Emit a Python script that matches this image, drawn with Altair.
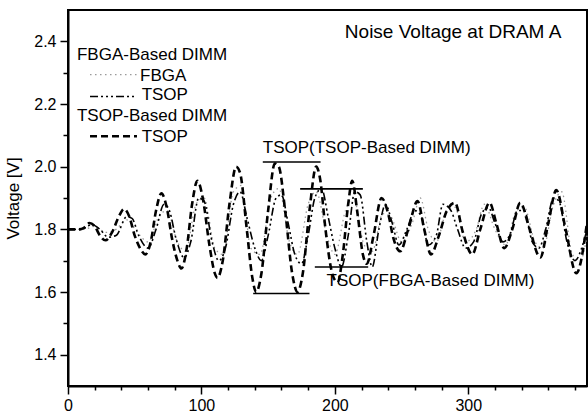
import altair as alt
import pandas as pd

# ---- waveform: TSOP chip on TSOP-based DIMM (dashed) ----
tt_t = [0, 8, 12, 16, 20, 24, 28, 33, 38, 42, 46, 50, 54, 58, 62, 66, 70, 74, 78, 82, 85, 89, 93, 97,
        101, 106, 110, 112, 116, 121, 126, 129, 134, 138, 141, 145, 150, 155, 158, 163, 168, 172, 176,
        181, 186, 189, 193, 198, 202, 206, 210, 213, 217, 221, 224, 229, 235, 240, 244, 249, 255, 262,
        267, 272, 278, 284, 290, 296, 303, 309, 316, 321, 327, 333, 339, 346, 354, 360, 366, 373, 381, 389]
tt_v = [1.80, 1.80, 1.805, 1.82, 1.81, 1.78, 1.765, 1.79, 1.84, 1.865, 1.84, 1.78, 1.74, 1.72, 1.76, 1.86,
        1.915, 1.87, 1.77, 1.70, 1.675, 1.74, 1.88, 1.955, 1.90, 1.75, 1.66, 1.645, 1.70, 1.88, 2.00, 1.98,
        1.80, 1.65, 1.60, 1.66, 1.86, 2.01, 2.00, 1.85, 1.66, 1.60, 1.66, 1.86, 2.00, 1.96, 1.80, 1.66,
        1.63, 1.72, 1.88, 1.955, 1.85, 1.72, 1.69, 1.78, 1.90, 1.85, 1.77, 1.73, 1.80, 1.89, 1.80, 1.72,
        1.78, 1.86, 1.885, 1.79, 1.72, 1.80, 1.885, 1.82, 1.74, 1.80, 1.885, 1.80, 1.71, 1.82, 1.925,
        1.80, 1.66, 1.82]

# ---- waveform: TSOP chip on FBGA-based DIMM (dash-dot) ----
tf_t = [0, 10, 18, 24, 30, 36, 44, 48, 53, 60, 66, 72, 76, 81, 87, 92, 98, 102, 108, 113, 118, 124, 129,
        134, 140, 145, 150, 156, 160, 165, 170, 175, 180, 185, 190, 195, 200, 205, 210, 215, 219, 224,
        228, 233, 238, 243, 248, 254, 260, 265, 270, 276, 281, 287, 292, 298, 304, 310, 315, 320, 326,
        331, 337, 342, 348, 353, 358, 364, 368, 374, 380, 385, 389]
tf_v = [1.80, 1.80, 1.815, 1.80, 1.775, 1.78, 1.84, 1.835, 1.78, 1.74, 1.80, 1.88, 1.86, 1.77, 1.71, 1.76,
        1.90, 1.89, 1.76, 1.70, 1.74, 1.88, 1.92, 1.84, 1.74, 1.70, 1.78, 1.90, 1.91, 1.82, 1.72, 1.69,
        1.78, 1.90, 1.93, 1.84, 1.74, 1.68, 1.78, 1.92, 1.91, 1.76, 1.68, 1.80, 1.88, 1.82, 1.75, 1.80,
        1.86, 1.84, 1.75, 1.78, 1.88, 1.86, 1.80, 1.74, 1.76, 1.85, 1.87, 1.82, 1.76, 1.78, 1.86, 1.86,
        1.76, 1.74, 1.80, 1.90, 1.89, 1.76, 1.70, 1.74, 1.80]

# ---- waveform: FBGA chip on FBGA-based DIMM (dotted) ----
ff_t = [0, 12, 20, 28, 36, 44, 52, 60, 68, 74, 82, 88, 96, 102, 110, 116, 124, 130, 137, 144, 152, 158,
        166, 172, 180, 186, 194, 200, 208, 214, 222, 228, 236, 242, 250, 258, 264, 270, 276, 284, 290,
        298, 306, 312, 320, 328, 336, 342, 350, 356, 364, 370, 378, 384, 389]
ff_v = [1.80, 1.80, 1.81, 1.79, 1.80, 1.83, 1.79, 1.76, 1.84, 1.86, 1.76, 1.73, 1.88, 1.90, 1.74, 1.72,
        1.92, 1.94, 1.74, 1.72, 1.90, 1.93, 1.76, 1.72, 1.88, 1.92, 1.78, 1.72, 1.86, 1.90, 1.75, 1.73,
        1.85, 1.84, 1.76, 1.82, 1.90, 1.80, 1.76, 1.86, 1.87, 1.76, 1.80, 1.88, 1.80, 1.75, 1.86, 1.87,
        1.76, 1.74, 1.88, 1.92, 1.72, 1.70, 1.78]

# ---- legend samples (inside plot) ----
leg_ff_t = [16.5, 52.4]
leg_ff_v = [2.294, 2.294]
leg_tf_t = [16.5, 51.7]
leg_tf_v = [2.224, 2.224]
leg_tt_t = [16.5, 51.7]
leg_tt_v = [2.097, 2.097]

# ---- texts ----
txt_label = ["Noise Voltage at DRAM A", "FBGA-Based DIMM", "FBGA", "TSOP", "TSOP-Based DIMM", "TSOP",
             "TSOP(TSOP-Based DIMM)", "TSOP(FBGA-Based DIMM)"]
txt_t = [207.5, 6.7, 54.0, 55.2, 6.7, 55.2, 146.0, 193.8]
txt_v = [2.411, 2.341, 2.275, 2.2115, 2.1455, 2.0785, 2.043, 1.618]
txt_size = [19, 17, 17, 17, 17, 17, 17, 17]

# ---- min/max marker rules ----
rule_x1 = [146.0, 138.8, 174.0, 185.0]
rule_x2 = [189.3, 181.0, 221.0, 225.0]
rule_y = [2.015, 1.595, 1.929, 1.68]

x_ticks = list(range(0, 390, 20))
y_ticks = [1.4, 1.5, 1.6, 1.7, 1.8, 1.9, 2.0, 2.1, 2.2, 2.3, 2.4]

FONT = "Liberation Sans"


def series_df(t, v, lt, lv):
    rows = [{"t": a, "v": b, "seg": "curve"} for a, b in zip(t, v)]
    rows += [{"t": a, "v": b, "seg": "legend"} for a, b in zip(lt, lv)]
    return pd.DataFrame(rows)


xscale = alt.Scale(domain=[0, 389], nice=False, zero=False)
yscale = alt.Scale(domain=[1.3, 2.5], nice=False, zero=False)

xaxis = alt.Axis(
    values=x_ticks,
    tickSize={"condition": {"test": "datum.value % 100 === 0", "value": 8}, "value": 4},
    labelExpr="datum.value % 100 === 0 ? datum.label : ''",
    labelOverlap=False,
    labelFontSize=16, labelFont=FONT, labelColor="black", labelPadding=3,
    domainColor="black", domainWidth=2, tickColor="black", tickWidth=1.5,
    grid=False, title=None, labelFlush=False,
)
yaxis = alt.Axis(
    values=y_ticks,
    tickSize={"condition": {"test": "round(datum.value*10) % 2 === 0", "value": 8}, "value": 5},
    labelExpr="round(datum.value*10) % 2 === 0 ? format(datum.value, '.1f') : ''",
    labelOverlap=False,
    labelFontSize=16, labelFont=FONT, labelColor="black", labelPadding=4,
    domainColor="black", domainWidth=2, tickColor="black", tickWidth=1.5,
    grid=False, title="Voltage [V]", titleFont=FONT, titleFontSize=17, titleFontWeight="normal",
    titleColor="black", titlePadding=11, labelFlush=False,
)


def enc(ch, xf="t", yf="v"):
    return ch.encode(
        x=alt.X(f"{xf}:Q", scale=xscale, axis=xaxis),
        y=alt.Y(f"{yf}:Q", scale=yscale, axis=yaxis),
    )


ff_layer = enc(alt.Chart(series_df(ff_t, ff_v, leg_ff_t, leg_ff_v)).mark_line(
    color="#9a9a9a", strokeWidth=1.3, strokeDash=[1.5, 3.5], interpolate="monotone"
)).encode(detail="seg:N")

tf_layer = enc(alt.Chart(series_df(tf_t, tf_v, leg_tf_t, leg_tf_v)).mark_line(
    color="black", strokeWidth=1.6, strokeDash=[8, 3, 2, 3, 2, 3, 2, 3], interpolate="monotone"
)).encode(detail="seg:N")

tt_layer = enc(alt.Chart(series_df(tt_t, tt_v, leg_tt_t, leg_tt_v)).mark_line(
    color="black", strokeWidth=2.6, strokeDash=[7, 4], interpolate="monotone"
)).encode(detail="seg:N")

rules = enc(alt.Chart(pd.DataFrame({"x1": rule_x1, "x2": rule_x2, "y": rule_y})).mark_rule(
    color="black", strokeWidth=1.6
), xf="x1", yf="y").encode(x2="x2:Q")

texts = enc(alt.Chart(pd.DataFrame({"t": txt_t, "v": txt_v, "label": txt_label, "fs": txt_size})).mark_text(
    align="left", baseline="alphabetic", font=FONT, color="black"
)).encode(
    text="label:N", size=alt.Size("fs:Q", scale=None, legend=None),
)

chart = alt.layer(ff_layer, tf_layer, tt_layer, rules, texts).properties(
    width=519, height=376,
    autosize=alt.AutoSizeParams(type="none"),
    padding={"left": 68, "top": 10, "right": 1, "bottom": 27},
    background="white",
).configure_view(stroke="black", strokeWidth=2).configure_axis(labelOverlap=False)

chart.save("out.html", embed_options={"renderer": "svg", "actions": False})
